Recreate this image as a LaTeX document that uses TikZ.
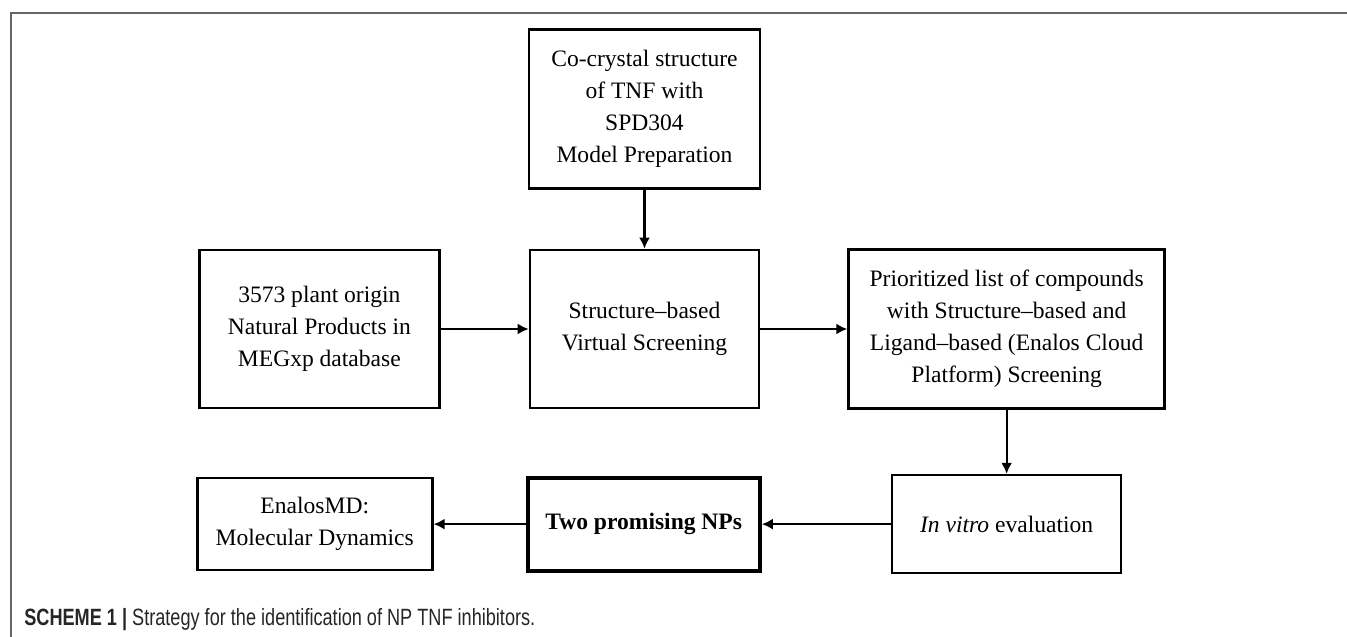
\documentclass[tikz,border=0pt]{standalone}
\usepackage{fontspec}
\setmainfont{Liberation Serif}
\newfontfamily\capfont[FakeStretch=0.77]{Liberation Sans}
\usepackage{tikz}
\usetikzlibrary{positioning, arrows.meta}

\begin{document}
\begin{tikzpicture}[
    >={Latex[width=2.2mm,length=2.2mm]},
    stepbox/.style={rectangle, draw=black, line width=1.5pt, align=center, font=\fontsize{13.4}{18.2}\selectfont},
    keybox/.style={stepbox, line width=2.4pt, font=\fontsize{13.4}{18.2}\selectfont\bfseries},
    flow/.style={->, line width=1.3pt},
    frame/.style={draw=black!60, line width=0.7pt},
    node distance=1.75cm % default distance, but you can customize each one
]

% Page and frame
\useasboundingbox (-12.89,-6.16) rectangle (14.05,6.58);
\draw[frame] (-12.67,-6.2) |- (14.1,6.32);

% Nodes
\node[stepbox, minimum width=4.58cm, minimum height=3.16cm] (vs) {Structure–based\\Virtual Screening};
\node[stepbox, minimum width=4.62cm, minimum height=3.18cm] (prep) [above=1.18cm of vs] {Co-crystal structure\\of TNF with\\SPD304\\Model Preparation};
\node[stepbox, minimum width=4.8cm, minimum height=3.16cm] (np) [left=1.76cm of vs] {3573 plant origin\\Natural Products in\\MEGxp database};
\node[stepbox, minimum width=6.32cm, minimum height=3.18cm] (list) [right=1.74cm of vs] {Prioritized list of compounds\\with Structure–based and\\Ligand–based (Enalos Cloud\\Platform) Screening};
\node[stepbox, minimum width=4.58cm, minimum height=1.96cm] (vitro) [below=1.28cm of list] {\textit{In vitro} evaluation};
\node[keybox, minimum width=4.64cm, minimum height=1.86cm] (nps) [left=2.58cm of vitro] {Two promising NPs};
\node[stepbox, minimum width=4.7cm, minimum height=1.84cm] (md) [left=1.84cm of nps] {EnalosMD:\\Molecular Dynamics};

% Caption
\node[anchor=west, inner sep=0pt, text=black!85, font=\capfont\fontsize{13.4}{15}\selectfont] (cap) at (-12.41,-5.82) {\textbf{SCHEME 1 |} Strategy for the identification of NP TNF inhibitors.};

% Arrows
\draw[flow] (prep) -- (vs);
\draw[flow] (np) -- (vs);
\draw[flow] (vs) -- (list);
\draw[flow] (list) -- (vitro);
\draw[flow] (vitro) -- (nps);
\draw[flow] (nps) -- (md);

\end{tikzpicture}
\end{document}
